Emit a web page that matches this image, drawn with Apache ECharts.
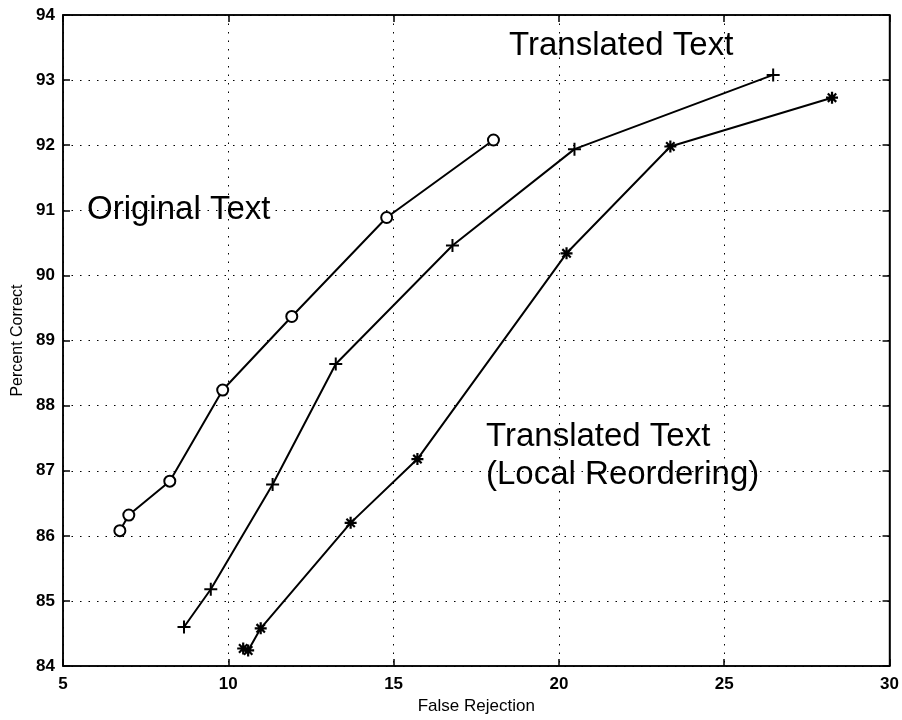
<!DOCTYPE html>
<html>
<head>
<meta charset="utf-8">
<script src="https://cdn.jsdelivr.net/npm/echarts@6/dist/echarts.min.js"></script>
<style>
  html, body { margin: 0; padding: 0; background: #fff; }
  #chart { width: 902px; height: 720px; }
</style>
</head>
<body>
<div id="chart"></div>
<script>
// data (x = false rejection, y = percent correct)
const originalX = [6.72, 6.99, 8.23, 9.83, 11.92, 14.79, 18.02];
const originalY = [86.08, 86.32, 86.84, 88.24, 89.37, 90.89, 92.08];

const translatedX = [8.66, 9.47, 11.34, 13.25, 16.78, 20.47, 26.48];
const translatedY = [84.60, 85.18, 86.79, 88.64, 90.46, 91.94, 93.08];

const reorderX = [10.45, 10.6, 10.98, 13.7, 15.72, 20.23, 23.37, 28.26];
const reorderY = [84.27, 84.24, 84.58, 86.2, 87.18, 90.34, 91.98, 92.73];

const xTicks = [5, 10, 15, 20, 25, 30];
const yTicks = [84, 85, 86, 87, 88, 89, 90, 91, 92, 93, 94];

const notes = ['Original Text', 'Translated Text', 'Translated Text\n(Local Reordering)'];

const FONT = '"Liberation Sans", Arial, Helvetica, sans-serif';
const plusPath = 'path://M0,5L10,5M5,0L5,10';
const starPath = 'path://M5,0L5,10M0,5L10,5M1.5,1.5L8.5,8.5M8.5,1.5L1.5,8.5';

function pairs(xs, ys) {
    return xs.map((x, i) => [x, ys[i]]);
}

const chart = echarts.init(document.getElementById('chart'), null, { renderer: 'canvas' });

const gridLine = { show: true, lineStyle: { color: '#000', width: 1, type: [1.5, 7] } };
const tickLbl = { color: '#000', fontFamily: FONT, fontSize: 17, fontWeight: 'bold' };

const option = {
    animation: false,
    backgroundColor: '#fff',
    grid: { left: 63, right: 12, top: 15, bottom: 50, show: true, borderColor: '#000', borderWidth: 1.5 },
    xAxis: [{
        type: 'value', min: xTicks[0], max: xTicks[xTicks.length - 1], interval: 5,
        name: 'False Rejection', nameLocation: 'middle', nameGap: 29,
        nameTextStyle: { color: '#000', fontFamily: FONT, fontSize: 17 },
        axisLine: { show: true, lineStyle: { color: '#000', width: 1.5 } },
        axisTick: { show: true, inside: true, length: 7, lineStyle: { color: '#000', width: 1.5 } },
        axisLabel: Object.assign({ margin: 10 }, tickLbl),
        splitLine: gridLine
    }, {
        type: 'value', position: 'top', min: xTicks[0], max: xTicks[xTicks.length - 1], interval: 5,
        axisLine: { show: true, lineStyle: { color: '#000', width: 1.5 } },
        axisTick: { show: true, inside: true, length: 7, lineStyle: { color: '#000', width: 1.5 } },
        axisLabel: { show: false },
        splitLine: { show: false }
    }],
    yAxis: [{
        type: 'value', min: yTicks[0], max: yTicks[yTicks.length - 1], interval: 1,
        name: 'Percent Correct', nameLocation: 'middle', nameGap: 33,
        nameTextStyle: { color: '#000', fontFamily: FONT, fontSize: 16 },
        axisLine: { show: true, lineStyle: { color: '#000', width: 1.5 } },
        axisTick: { show: true, inside: true, length: 7, lineStyle: { color: '#000', width: 1.5 } },
        axisLabel: Object.assign({ margin: 8 }, tickLbl),
        splitLine: gridLine
    }, {
        type: 'value', position: 'right', min: yTicks[0], max: yTicks[yTicks.length - 1], interval: 1,
        axisLine: { show: true, lineStyle: { color: '#000', width: 1.5 } },
        axisTick: { show: true, inside: true, length: 7, lineStyle: { color: '#000', width: 1.5 } },
        axisLabel: { show: false },
        splitLine: { show: false }
    }],
    series: [{
        name: 'Original Text',
        type: 'line',
        data: pairs(originalX, originalY),
        symbol: 'circle',
        symbolSize: 11,
        lineStyle: { color: '#000', width: 2 },
        itemStyle: { color: '#fff', borderColor: '#000', borderWidth: 2 },
        z: 3
    }, {
        name: 'Translated Text',
        type: 'line',
        data: pairs(translatedX, translatedY),
        symbol: plusPath,
        symbolSize: 13,
        lineStyle: { color: '#000', width: 2 },
        itemStyle: { color: '#000', borderColor: '#000', borderWidth: 2 },
        z: 3
    }, {
        name: 'Translated Text (Local Reordering)',
        type: 'line',
        data: pairs(reorderX, reorderY),
        symbol: starPath,
        symbolSize: 12,
        lineStyle: { color: '#000', width: 2 },
        itemStyle: { color: '#000', borderColor: '#000', borderWidth: 2.2 },
        z: 3
    }],
    graphic: [{
        type: 'text', left: 87, top: 193,
        style: { text: notes[0], fill: '#000', font: '33px ' + FONT }
    }, {
        type: 'text', left: 509, top: 29,
        style: { text: notes[1], fill: '#000', font: '33px ' + FONT }
    }, {
        type: 'text', left: 486, top: 418,
        style: { text: notes[2], fill: '#000', font: '33px ' + FONT, lineHeight: 38 }
    }]
};

chart.setOption(option);
</script>
</body>
</html>
